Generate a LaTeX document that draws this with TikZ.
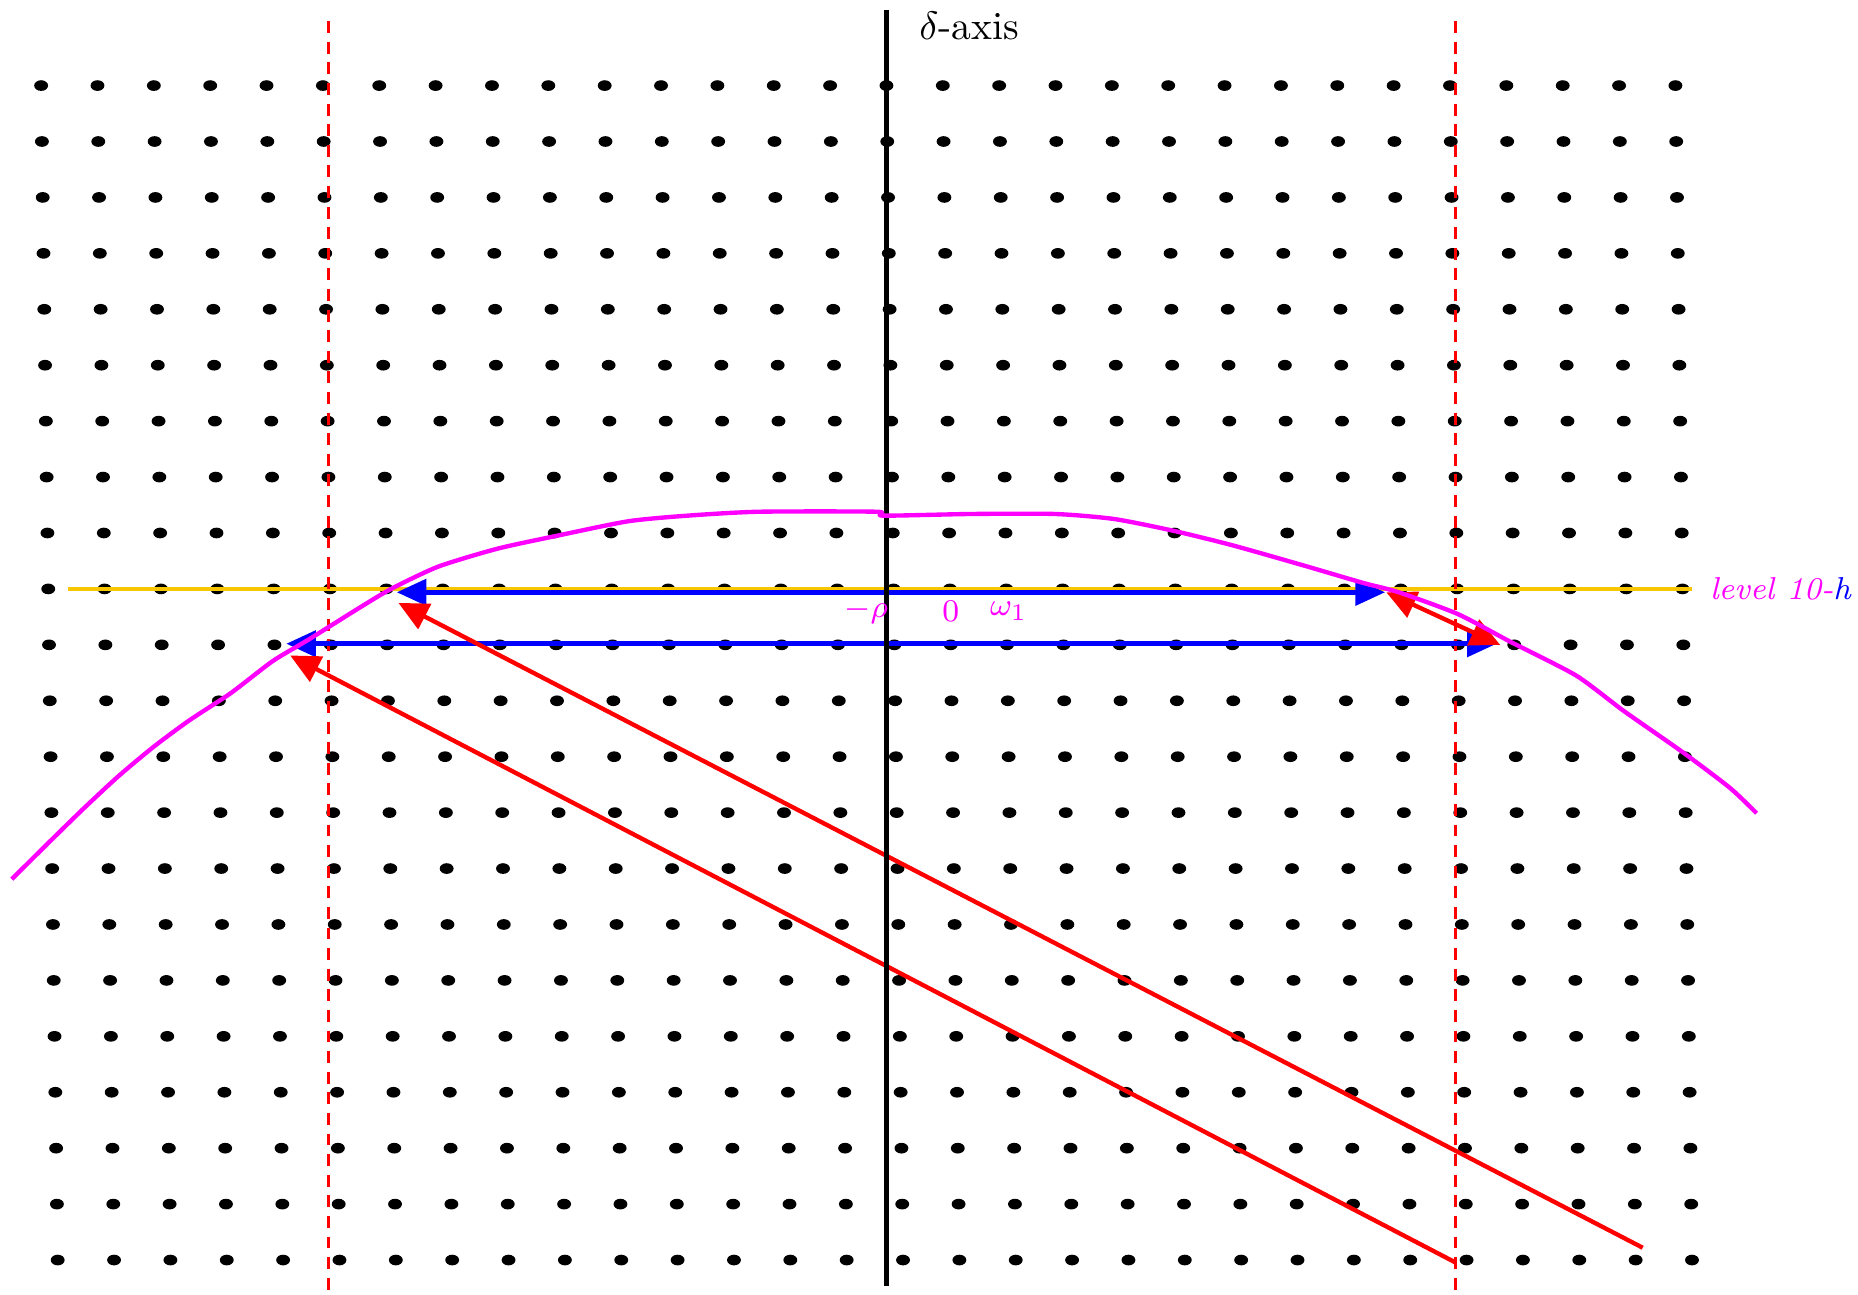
\documentclass[tikz,border=0pt]{standalone}
\usetikzlibrary{arrows.meta}
\definecolor{LATgold}{HTML}{F7C600}
\definecolor{LATmagenta}{HTML}{FF00FF}
\definecolor{LATblue}{HTML}{0000FF}
\definecolor{LATred}{HTML}{FF0000}

\begin{document}
\begin{tikzpicture}[x=0.5cm, y=0.4962cm]
      \useasboundingbox (-15.73,-12.61) rectangle (17.24,10.53);
      % Lattice points
      \foreach \j in {9,...,-12}
        \foreach \i in {-15,...,14}
          \fill (\i+0.014*9-0.014*\j,\j) ellipse [x radius=1.75pt, y radius=1.35pt];
      % Level line
      \coordinate (levL) at (-14.53,0);
      \coordinate (levR) at (14.3,0);
      \draw[LATgold, line width=0.9pt] (levL) -- (levR);
      \node[right, font=\footnotesize\itshape, inner sep=0pt] (levlab) at (14.6,0) {{\color{LATmagenta}level 10-}{\color{LATblue}h}};
      % Strip boundaries
      \draw[LATred, line width=0.8pt, dash pattern=on 3pt off 2.2pt] (-9.9,10.15) -- (-9.9,-12.61);
      \draw[LATred, line width=0.8pt, dash pattern=on 3pt off 2.2pt] (10.1,10.15) -- (10.1,-12.61);
      % Horizontal moves
      \coordinate (bAL) at (-8.69,-0.06);
      \coordinate (bAR) at (8.85,-0.06);
      \coordinate (bBL) at (-10.65,-0.98);
      \coordinate (bBR) at (10.83,-0.98);
      \draw[{Triangle[length=7.5pt,width=6.5pt]}-{Triangle[length=7.5pt,width=6.5pt]}, LATblue, line width=1.3pt] (bAL) -- (bAR);
      \draw[{Triangle[length=7.5pt,width=6.5pt]}-{Triangle[length=7.5pt,width=6.5pt]}, LATblue, line width=1.3pt] (bBL) -- (bBR);
      % Diagonal moves
      \coordinate (rAs) at (13.42,-11.78);
      \coordinate (rAe) at (-8.66,-0.25);
      \coordinate (rBs) at (10.09,-12.04);
      \coordinate (rBe) at (-10.58,-1.19);
      \coordinate (rCs) at (8.87,-0.06);
      \coordinate (rCe) at (10.89,-1.0);
      \draw[-{Triangle[length=7.5pt,width=7pt]}, LATred, line width=1.1pt] (rAs) -- (rAe);
      \draw[-{Triangle[length=7.5pt,width=7pt]}, LATred, line width=1.1pt] (rBs) -- (rBe);
      \draw[{Triangle[length=7.5pt,width=7pt]}-{Triangle[length=7.5pt,width=7pt]}, LATred, line width=1.1pt] (rCs) -- (rCe);
      % Delta axis
      \coordinate (axB) at (0,-12.46);
      \coordinate (axT) at (0,10.36);
      \draw[line width=1.3pt] (axB) -- (axT);
      \node[right, inner sep=0pt] (axlab) at (0.57,10.07) {$\delta$-axis};
      % Marks on the level
      \node[font=\footnotesize, LATmagenta] (rho) at (-0.36,-0.4) {$-\rho$};
      \node[font=\footnotesize, LATmagenta] (zero) at (1.14,-0.4) {$0$};
      \node[font=\footnotesize, LATmagenta] (om) at (2.17,-0.4) {$\omega_1$};
      % Boundary curve
      \draw[LATmagenta, line width=1.1pt, line join=round] plot[smooth, tension=0.4] coordinates {
        (-15.52,-5.19) (-14.89,-4.56) (-14.26,-3.94) (-13.63,-3.35) (-13.00,-2.82)
        (-12.37,-2.35) (-11.63,-1.86) (-10.89,-1.29) (-10.26,-0.91) (-9.42,-0.38)
        (-8.79,0) (-7.95,0.40) (-6.90,0.72) (-5.85,0.95) (-4.58,1.21) (-3.53,1.31)
        (-2.27,1.38) (-0.17,1.38) (-0.06,1.31) (1.51,1.34) (2.99,1.34) (4.04,1.25)
        (5.09,1.04) (6.14,0.78) (7.40,0.42) (8.45,0.11) (9.09,-0.06) (10.14,-0.45)
        (11.08,-0.95) (12.24,-1.55) (13.08,-2.18) (14.13,-2.92) (14.97,-3.56) (15.44,-4.01)};
\end{tikzpicture}
\end{document}
